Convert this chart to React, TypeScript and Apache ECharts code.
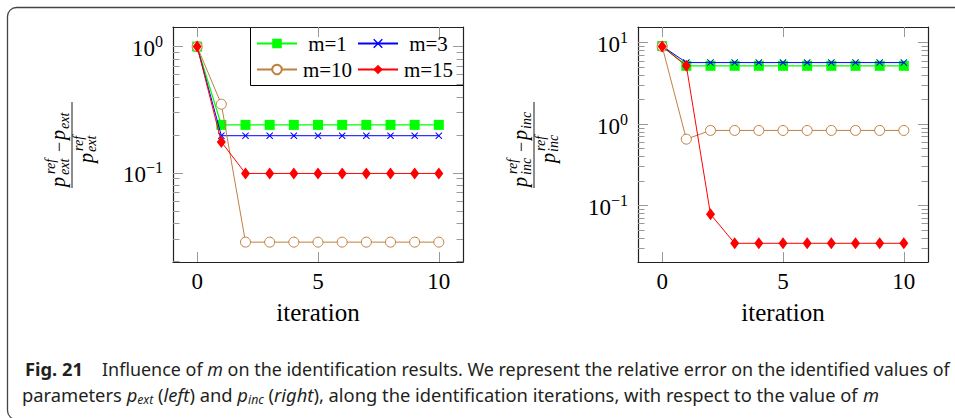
import React, { useEffect, useRef } from "react";
import * as echarts from "echarts";

// ---------- data ----------
const iterations = [0, 1, 2, 3, 4, 5, 6, 7, 8, 9, 10];
const seriesNames = ["m=1", "m=3", "m=10", "m=15"];

// left panel: relative error on p_ext
const extM1 = [1, 0.24, 0.24, 0.24, 0.24, 0.24, 0.24, 0.24, 0.24, 0.24, 0.24];
const extM3 = [1, 0.197, 0.197, 0.197, 0.197, 0.197, 0.197, 0.197, 0.197, 0.197, 0.197];
const extM10 = [1, 0.35, 0.0283, 0.0283, 0.0283, 0.0283, 0.0283, 0.0283, 0.0283, 0.0283, 0.0283];
const extM15 = [1, 0.176, 0.099, 0.099, 0.099, 0.099, 0.099, 0.099, 0.099, 0.099, 0.099];

// right panel: relative error on p_inc
const incM1 = [9.1, 5.2, 5.2, 5.2, 5.2, 5.2, 5.2, 5.2, 5.2, 5.2, 5.2];
const incM3 = [9.1, 5.7, 5.7, 5.7, 5.7, 5.7, 5.7, 5.7, 5.7, 5.7, 5.7];
const incM10 = [9.0, 0.653, 0.836, 0.836, 0.836, 0.836, 0.836, 0.836, 0.836, 0.836, 0.836];
const incM15 = [9.0, 5.2, 0.078, 0.0343, 0.0343, 0.0343, 0.0343, 0.0343, 0.0343, 0.0343, 0.0343];

// axes
const xTickValues = [0, 5, 10];
const xRange = [-1, 11];
const xAxisTitle = "iteration";
const leftYRange = [0.0197, 1.43];
const rightYRange = [0.0202, 15.6];
const leftMajorTicks = [0.1, 1];
const leftMinorTicks = [0.02, 0.03, 0.04, 0.05, 0.06, 0.07, 0.08, 0.09, 0.2, 0.3, 0.4, 0.5, 0.6, 0.7, 0.8, 0.9];
const rightMajorTicks = [0.1, 1, 10];
const rightMinorTicks = [0.03, 0.04, 0.05, 0.06, 0.07, 0.08, 0.09, 0.2, 0.3, 0.4, 0.5, 0.6, 0.7, 0.8, 0.9, 2, 3, 4, 5, 6, 7, 8, 9];

// caption
const captionFig = "Fig. 21";
const captionLine1: [string, string][] = [
  ["n", "Influence of "],
  ["i", "m"],
  ["n", " on the identification results. We represent the relative error on the identified values of"],
];
const captionLine2: [string, string][] = [
  ["n", "parameters "],
  ["i", "p"],
  ["s", "ext"],
  ["n", " ("],
  ["i", "left"],
  ["n", ") and "],
  ["i", "p"],
  ["s", "inc"],
  ["n", " ("],
  ["i", "right"],
  ["n", "), along the identification iterations, with respect to the value of "],
  ["i", "m"],
];

// ---------- styles ----------
const SERIF = '"Liberation Serif", serif';
const SANS = '"Noto Sans", sans-serif';
const CAP = "#231f20";
const colors = ["#00ff00", "#0000ff", "#bf8040", "#ff0000"];
const symbolFill = ["#00ff00", "#0000ff", "#ffffff", "#ff0000"];
const symbolBorder = [0, 0, 1, 0];
const symbols = [
  "rect",
  "path://M0,1L1,0L5,4L9,0L10,1L6,5L10,9L9,10L5,6L1,10L0,9L4,5Z",
  "circle",
  "diamond",
];
const symbolSizes: any[] = [10, 7, 10, [9, 12]];
const lineWidths = [1.3, 1, 1, 1];
const AXIS_COLOR = "#222";
const TICK_COLOR = "#999";

function measure(parts: [string, string][], fonts: Record<string, string>) {
  const ctx = document.createElement("canvas").getContext("2d")!;
  let w = 0;
  for (const [k, t] of parts) {
    ctx.font = fonts[k];
    w += ctx.measureText(t).width;
  }
  return w;
}

const capFonts: Record<string, string> = {
  n: `18px ${SANS}`,
  i: `italic 18px ${SANS}`,
  s: `italic 12px ${SANS}`,
  b: `bold 18px ${SANS}`,
};

const capRich = {
  n: { fontFamily: SANS, fontSize: 18, lineHeight: 22, fill: CAP, color: CAP },
  i: { fontFamily: SANS, fontSize: 18, fontStyle: "italic", lineHeight: 22, fill: CAP, color: CAP },
  s: { fontFamily: SANS, fontSize: 12, fontStyle: "italic", lineHeight: 12, verticalAlign: "bottom", fill: CAP, color: CAP },
  b: { fontFamily: SANS, fontSize: 18, fontWeight: "bold", lineHeight: 22, fill: CAP, color: CAP },
};

function captionText(parts: [string, string][], x: number, yMid: number, targetW: number) {
  const natural = measure(parts, capFonts);
  return {
    type: "text",
    x,
    y: yMid,
    scaleX: targetW / natural,
    silent: true,
    style: {
      text: parts.map(([k, t]) => `{${k}|${t}}`).join(""),
      rich: capRich,
      font: capFonts.n,
      fill: CAP,
      align: "left",
      textAlign: "left",
      verticalAlign: "middle",
      textVerticalAlign: "middle",
    },
  };
}

function fraction(sub: string, lineX: number, bottomY: number) {
  const mainF = `italic 20px ${SERIF}`;
  const smallF = `italic 14px ${SERIF}`;
  const t = (text: string, x: number, baseline: number, font: string, size: number) => ({
    type: "text",
    x,
    y: baseline - 0.3 * size,
    style: {
      text,
      font,
      fill: "#000",
      align: "left",
      textAlign: "left",
      verticalAlign: "middle",
      textVerticalAlign: "middle",
    },
  });
  return {
    type: "group",
    x: lineX,
    y: bottomY,
    rotation: Math.PI / 2,
    silent: true,
    children: [
      { type: "line", shape: { x1: 0, y1: 0, x2: 86, y2: 0 }, style: { stroke: "#000", lineWidth: 0.9 } },
      t("p", 1, -8, mainF, 20),
      t("ref", 14, -17, smallF, 14),
      t(sub, 13, -3, smallF, 14),
      t("\u2212", 36, -8, `18px ${SERIF}`, 18),
      t("p", 48, -8, mainF, 20),
      t(sub, 59, -3, smallF, 14),
      t("p", 25, 20, mainF, 20),
      t("ref", 37, 11, smallF, 14),
      t(sub, 36, 24, smallF, 14),
    ],
  };
}

function makeX(gridIndex: number, position: string, showLabel: boolean) {
  return {
    type: "value",
    gridIndex,
    position,
    min: xRange[0],
    max: xRange[1],
    name: showLabel ? xAxisTitle : "",
    nameLocation: "middle",
    nameGap: 38,
    nameMoveOverlap: false,
    nameTextStyle: { fontFamily: SERIF, fontSize: 25, color: "#000" },
    axisLine: { show: true, onZero: false, lineStyle: { color: AXIS_COLOR, width: 1.2 } },
    axisTick: { show: true, inside: true, length: 10, customValues: xTickValues, lineStyle: { color: TICK_COLOR, width: 1 } },
    axisLabel: { show: showLabel, customValues: xTickValues, margin: 8, fontFamily: SERIF, fontSize: 23, color: "#000" },
    splitLine: { show: false },
  };
}

function expLabel(v: number) {
  const e = Math.round(Math.log10(v));
  return `{a|10}{s|${e < 0 ? "\u2212" + Math.abs(e) : e}}`;
}

function makeY(gridIndex: number, position: string, range: number[], ticks: number[], len: number, showLine: boolean, labels: number[] | null) {
  return {
    type: "log",
    logBase: 10,
    gridIndex,
    position,
    min: range[0],
    max: range[1],
    axisLine: { show: showLine, onZero: false, lineStyle: { color: AXIS_COLOR, width: 1.2 } },
    axisTick: { show: true, inside: true, length: len, customValues: ticks, lineStyle: { color: TICK_COLOR, width: 1 } },
    axisLabel: {
      show: !!labels,
      customValues: labels || ticks,
      margin: 10,
      formatter: expLabel,
      rich: {
        a: { fontFamily: SERIF, fontSize: 23, lineHeight: 26, color: "#000", padding: [4, 0, 0, 0] },
        s: { fontFamily: SERIF, fontSize: 16, lineHeight: 14, verticalAlign: "top", color: "#000" },
      },
    },
    splitLine: { show: false },
    minorTick: { show: false },
  };
}

function makeSeries(values: number[][], xi: number, yi: number) {
  return values.map((vals, k) => ({
    name: seriesNames[k],
    type: "line",
    xAxisIndex: xi,
    yAxisIndex: yi,
    data: iterations.map((it, i) => [it, vals[i]]),
    symbol: symbols[k],
    symbolSize: symbolSizes[k],
    showSymbol: true,
    showAllSymbol: true,
    itemStyle: { color: symbolFill[k], borderColor: colors[k], borderWidth: symbolBorder[k] },
    lineStyle: { color: colors[k], width: lineWidths[k] },
    emphasis: { disabled: true },
    silent: true,
    z: 2 + k,
  }));
}

function buildOption() {
  const legendPos = [
    { left: 256, top: 33 },
    { left: 357, top: 33 },
    { left: 256, top: 59 },
    { left: 357, top: 59 },
  ];
  return {
    animation: false,
    backgroundColor: "#fff",
    grid: [
      { left: 173, top: 27, width: 290, height: 235, outerBoundsMode: "none", containLabel: false },
      { left: 638, top: 27, width: 290, height: 235, outerBoundsMode: "none", containLabel: false },
    ],
    xAxis: [makeX(0, "bottom", true), makeX(0, "top", false), makeX(1, "bottom", true), makeX(1, "top", false)],
    yAxis: [
      makeY(0, "left", leftYRange, leftMajorTicks, 10, true, leftMajorTicks),
      makeY(0, "left", leftYRange, leftMinorTicks, 6.5, false, null),
      makeY(0, "right", leftYRange, leftMajorTicks, 10, true, null),
      makeY(0, "right", leftYRange, leftMinorTicks, 6.5, false, null),
      makeY(1, "left", rightYRange, rightMajorTicks, 10, true, rightMajorTicks),
      makeY(1, "left", rightYRange, rightMinorTicks, 6.5, false, null),
      makeY(1, "right", rightYRange, rightMajorTicks, 10, true, null),
      makeY(1, "right", rightYRange, rightMinorTicks, 6.5, false, null),
    ],
    legend: seriesNames.map((n, i) => ({
      data: [n],
      left: legendPos[i].left,
      top: legendPos[i].top,
      orient: "horizontal",
      padding: 0,
      itemWidth: 40,
      itemHeight: 12,
      itemGap: 0,
      selectedMode: false,
      formatter: (name: string) => `{t|${name}}`,
      textStyle: {
        fontFamily: SERIF,
        fontSize: 21,
        color: "#000",
        rich: { t: { fontFamily: SERIF, fontSize: 21, lineHeight: 20, width: 51, align: "center", color: "#000" } },
      },
    })),
    series: [
      ...makeSeries([extM1, extM3, extM10, extM15], 0, 0),
      ...makeSeries([incM1, incM3, incM10, incM15], 2, 4),
    ],
    graphic: [
      {
        type: "rect",
        silent: true,
        shape: { x: 7.5, y: 7.5, width: 975, height: 412, r: 9 },
        style: { fill: "none", stroke: "#444", lineWidth: 1.3 },
      },
      {
        type: "rect",
        silent: true,
        shape: { x: 250.5, y: 27.5, width: 213, height: 58 },
        style: { fill: "none", stroke: "#000", lineWidth: 1 },
      },
      fraction("ext", 72, 188),
      fraction("inc", 534, 188),
      captionText([["b", captionFig]], 25, 369, 58),
      captionText(captionLine1, 102, 369, 848),
      captionText(captionLine2, 22, 395, 857),
    ],
  };
}

export default function App() {
  const ref = useRef<HTMLDivElement>(null);
  useEffect(() => {
    const el = ref.current!;
    const chart = echarts.init(el, null, { renderer: "svg" });
    chart.setOption(buildOption() as any);
    return () => chart.dispose();
  }, []);
  return (
    <div
      ref={ref}
      style={{ position: "fixed", left: 0, top: 0, width: 955, height: 418, background: "#fff" }}
    />
  );
}
